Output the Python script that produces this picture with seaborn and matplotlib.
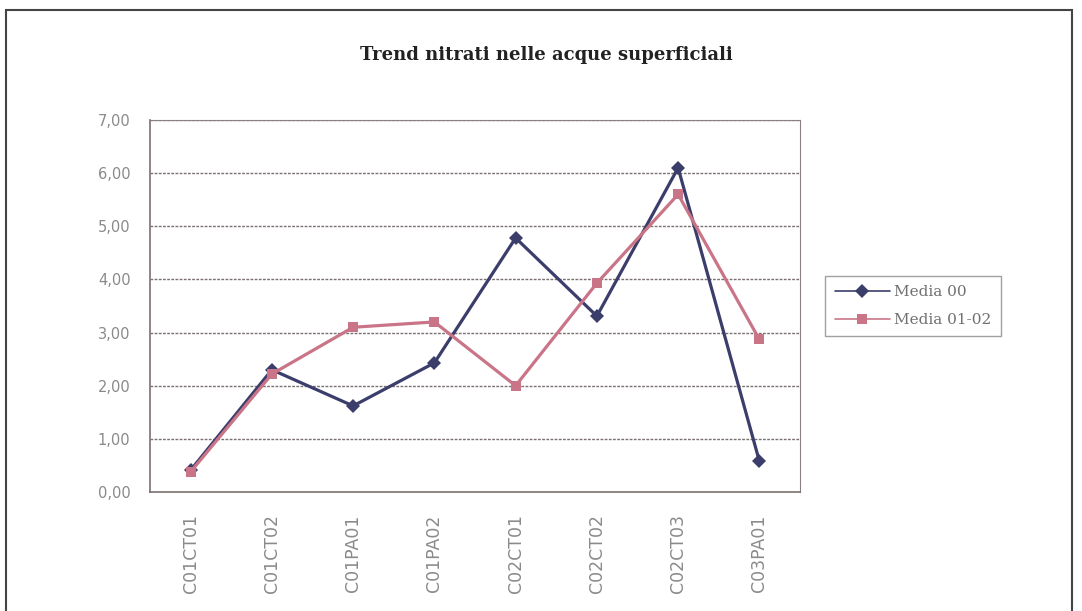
import matplotlib
matplotlib.use("Agg")
import matplotlib.pyplot as plt
import seaborn as sns
import numpy as np
import pandas as pd
from matplotlib.patches import Rectangle

stations = ["C01CT01", "C01CT02", "C01PA01", "C01PA02",
            "C02CT01", "C02CT02", "C02CT03", "C03PA01"]
media_00 = [0.41, 2.30, 1.62, 2.43, 4.78, 3.31, 6.10, 0.58]
media_01_02 = [0.38, 2.22, 3.10, 3.20, 2.00, 3.93, 5.60, 2.87]
series_names = ["Media 00", "Media 01-02"]
y_ticks = [0, 1, 2, 3, 4, 5, 6, 7]

df = pd.DataFrame({
    "station": stations * 2,
    "value": media_00 + media_01_02,
    "serie": [series_names[0]] * len(stations) + [series_names[1]] * len(stations),
})

sns.set_style("white")
plt.rcParams["font.family"] = ["DejaVu Serif"]

fig = plt.figure(figsize=(10.82, 6.11), dpi=100)
ax = fig.add_axes([150 / 1082, 1 - 492 / 611, 650 / 1082, 372 / 611])

palette = {"Media 00": "#3b3d6b", "Media 01-02": "#c97587"}
markers = {"Media 00": "D", "Media 01-02": "s"}
sns.lineplot(data=df, x="station", y="value", hue="serie", style="serie",
             markers=markers, dashes=False, palette=palette, sort=False,
             linewidth=2.3, markersize=7, markeredgewidth=0, ax=ax)

ax.set_xlim(-0.5, len(stations) - 0.5)
ax.set_ylim(0, 7)
ax.set_yticks(y_ticks)
ax.set_yticklabels([f"{v:.2f}".replace(".", ",") for v in y_ticks],
                   color="#8a8a8a", fontsize=10.5, family="DejaVu Sans")
ax.set_xticks(range(len(stations)))
ax.set_xticklabels(stations, rotation=90, color="#8a8a8a", fontsize=12.5,
                   family="DejaVu Sans")
ax.set_xticks(np.arange(-0.5, len(stations)), minor=True)
ax.tick_params(axis="x", which="major", length=0, pad=16)
ax.tick_params(axis="x", which="minor", length=5, color="#8a8080", direction="out")
ax.tick_params(axis="y", length=5, color="#8a8080", direction="out", pad=9)
ax.set_xlabel("")
ax.set_ylabel("")

for v in y_ticks[1:]:
    ax.axhline(v, color="#7a7070", linewidth=1.0, linestyle=(0, (2, 1)), zorder=0)

for side in ["top", "right"]:
    ax.spines[side].set_linestyle((0, (2, 1)))
    ax.spines[side].set_color("#8a8080")
for side in ["left", "bottom"]:
    ax.spines[side].set_color("#7a7070")
    ax.spines[side].set_linewidth(1.2)

handles, labels = ax.get_legend_handles_labels()
leg = ax.legend(handles, labels, loc="center", bbox_to_anchor=(913 / 1082, 1 - 306 / 611),
                bbox_transform=fig.transFigure, frameon=True, fancybox=False,
                fontsize=11, handlelength=3.6, handletextpad=0.3,
                labelspacing=0.9, borderpad=0.6)
leg.get_frame().set_edgecolor("#8a8a8a")
leg.get_frame().set_linewidth(1.0)
for t in leg.get_texts():
    t.set_color("#707070")
for h in leg.legend_handles:
    h.set_linewidth(1.2)

fig.text(0.505, 1 - 55 / 611, "Trend nitrati nelle acque superficiali",
         ha="center", va="center", fontsize=13, fontweight="bold", color="#222222")

fig.patches.append(Rectangle((6 / 1082, -0.02), 1066 / 1082, 1.02 - 10 / 611,
                             transform=fig.transFigure, fill=False,
                             edgecolor="#444444", linewidth=1.5))

fig.savefig("out.png", dpi=100)
